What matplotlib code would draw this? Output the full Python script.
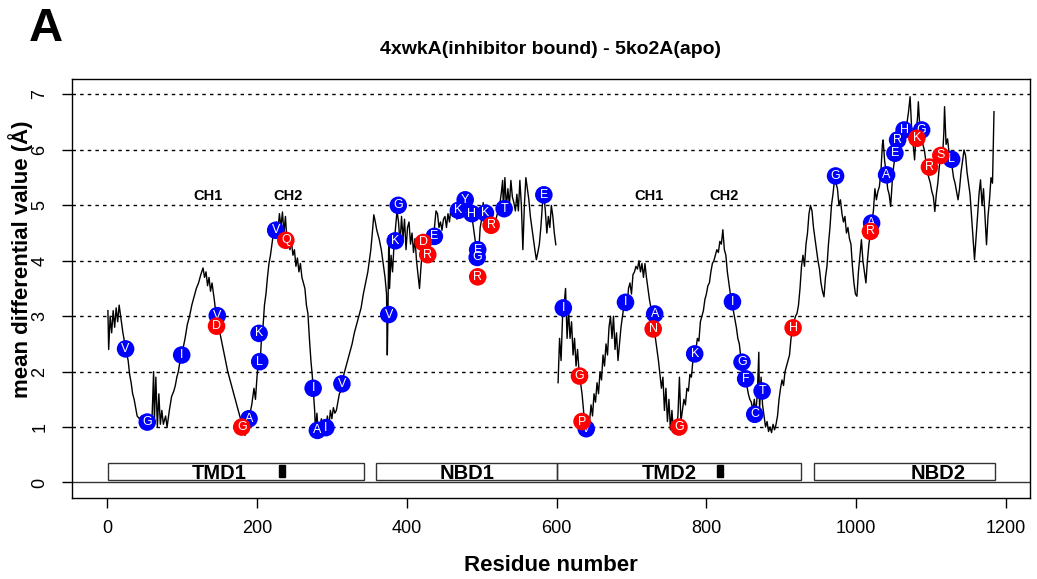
import numpy as np
import matplotlib
matplotlib.use('Agg')
import matplotlib.pyplot as plt
from matplotlib.patches import Rectangle

plt.rcParams['font.family'] = ['Liberation Sans', 'DejaVu Sans']

# mean differential value per residue, NaN = gap in numbering
res = [1, 2, 4, 6, 8, 10, 12, 14, 16, 18, 21, 25, 28, 30, 32, 34, 36, 38, 40, 43,
       46, 50, 54, 57, 60, 62, 63, 65, 67, 69, 71, 73, 75, 78, 80, 83, 86, 89, 91, 93,
       95, 98, 101, 104, 107, 110, 113, 116, 119, 122, 125, 128, 130, 132, 134, 136, 138, 140, 143, 146,
       149, 152, 155, 158, 161, 164, 167, 170, 173, 176, 179, 182, 184, 187, 190, 193, 196, 198, 200, 202,
       204, 206, 208, 210, 212, 214, 216, 218, 220, 222, 224, 226, 228, 230, 232, 234, 236, 238, 240, 242,
       244, 246, 248, 250, 252, 254, 256, 258, 260, 262, 264, 266, 268, 270, 272, 274, 276, 277, 278, 280,
       282, 284, 286, 288, 290, 292, 294, 296, 298, 300, 302, 304, 306, 308, 310, 312, 314, 316, 318, 321,
       324, 327, 330, 333, 336, 339, 342, 345, 348, 350, 352, 354, 356, 358, 360, 363, 366, 369, 371, 373,
       374, 375, 376, 377, 379, 381, 383, 385, 387, 389, 391, 393, 395, 397, 399, 401, 403, 405, 407, 409,
       411, 413, 415, 417, 419, 421, 423, 426, 429, 431, 433, 435, 437, 439, 441, 443, 445, 447, 449, 451,
       453, 455, 457, 459, 461, 463, 465, 467, 470, 473, 476, 479, 482, 485, 488, 490, 492, 494, 496, 498,
       500, 502, 504, 506, 508, 510, 512, 514, 516, 518, 520, 522, 524, 526, 528, 529, 531, 533, 535, 537,
       539, 541, 543, 545, 547, 549, 551, 553, 555, 557, 559, 561, 563, 565, 567, 569, 571, 573, 575, 577,
       579, 581, 583, 585, 587, 589, 591, 593, 595, 597, 599, 600,
       602, 604, 606, 608, 610, 612, 614, 616, 618, 620, 622, 624, 626, 628, 630, 632, 634, 636, 638, 640,
       642, 644, 646, 648, 650, 652, 654, 656, 658, 660, 662, 664, 666, 668, 670, 672, 674, 676, 678, 680,
       682, 684, 686, 688, 690, 692, 694, 696, 698, 700, 702, 704, 706, 708, 710, 712, 714, 716, 718, 720,
       722, 724, 726, 728, 730, 732, 734, 736, 738, 740, 742, 744, 746, 748, 750, 752, 754, 756, 758, 760,
       762, 764, 766, 768, 770, 772, 774, 776, 778, 780, 782, 784, 786, 788, 790, 792, 794, 796, 798, 800,
       802, 804, 806, 808, 810, 812, 814, 816, 818, 820, 822, 824, 826, 828, 830, 832, 834, 836, 838, 840,
       842, 844, 846, 848, 850, 852, 854, 856, 858, 860, 862, 864, 866, 868, 870, 871, 873, 875, 877, 879,
       881, 883, 885, 887, 889, 891, 893, 895, 897, 899, 901, 903, 905, 907, 909, 911, 913, 915, 917, 919,
       921, 923, 925, 927, 929, 931, 933, 935, 937, 939, 941, 943, 945, 947, 949, 951, 953, 955, 957, 959,
       961, 963, 965, 967, 969, 971, 973, 975, 977, 979, 981, 983, 985, 987, 989, 991, 993, 995, 997, 999,
       1001, 1003, 1005, 1007, 1009, 1011, 1013, 1015, 1017, 1019, 1021, 1023, 1025, 1027, 1029, 1031, 1033, 1035, 1036, 1038,
       1040, 1042, 1044, 1046, 1048, 1050, 1052, 1054, 1056, 1058, 1060, 1062, 1064, 1066, 1068, 1070, 1072, 1074, 1076, 1078,
       1080, 1082, 1083, 1085, 1087, 1089, 1091, 1093, 1095, 1097, 1099, 1101, 1103, 1105, 1107, 1109, 1111, 1113, 1115, 1117,
       1118, 1120, 1122, 1124, 1126, 1128, 1130, 1132, 1134, 1136, 1138, 1140, 1142, 1144, 1146, 1148, 1150, 1152, 1154, 1156,
       1158, 1160, 1162, 1164, 1166, 1168, 1170, 1172, 1174, 1176, 1178, 1180, 1182, 1184]
diff = [3.1, 2.4, 3.0, 2.7, 3.1, 2.8, 3.15, 2.9, 3.2, 3.0, 2.7, 2.4, 2.2, 1.95, 1.8, 1.6, 1.5, 1.35, 1.2, 1.15,
        1.2, 1.1, 1.0, 1.05, 1.2, 2.0, 1.1, 1.9, 1.0, 1.6, 1.05, 1.3, 1.05, 1.2, 1.0, 1.3, 1.55, 1.65, 1.75, 1.9,
        2.0, 2.25, 2.4, 2.6, 2.85, 3.0, 3.2, 3.35, 3.5, 3.6, 3.75, 3.87, 3.7, 3.8, 3.55, 3.7, 3.45, 3.6, 3.3, 2.95,
        2.8, 2.6, 2.4, 2.2, 2.0, 1.85, 1.7, 1.55, 1.4, 1.25, 1.1, 0.95, 0.85, 1.0, 1.2, 1.4, 1.7, 1.5, 1.9, 2.2,
        2.1, 2.6, 2.8, 3.2, 3.4, 3.7, 3.95, 4.1, 4.3, 4.5, 4.6, 4.7, 4.55, 4.85, 4.6, 4.88, 4.5, 4.8, 4.35, 4.5,
        4.2, 4.35, 4.1, 4.2, 3.9, 4.05, 3.8, 3.95, 3.7, 3.6, 3.5, 3.2, 3.05, 2.6, 2.2, 1.9, 1.5, 1.3, 0.95, 1.25,
        0.9, 1.0, 1.15, 0.95, 1.1, 0.95, 1.2, 1.0, 1.3, 1.15, 1.35, 1.25, 1.3, 1.45, 1.6, 1.65, 1.8, 1.95, 2.05, 2.2,
        2.35, 2.5, 2.7, 2.85, 3.0, 3.15, 3.4, 3.6, 3.8, 4.0, 4.2, 4.5, 4.83, 4.7, 4.55, 4.4, 4.2, 3.9, 3.7, 3.4,
        2.3, 3.2, 4.45, 3.5, 4.1, 3.8, 4.3, 4.6, 4.9, 4.7, 4.3, 4.8, 4.4, 4.75, 4.2, 4.6, 4.7, 4.3, 4.5, 4.15,
        4.4, 4.0, 3.75, 3.5, 3.9, 4.2, 4.4, 4.3, 4.5, 4.3, 4.5, 4.4, 4.6, 4.9, 4.85, 4.6, 4.7, 4.55, 4.75, 4.8,
        4.6, 4.85, 4.7, 4.95, 4.8, 5.0, 4.9, 4.75, 4.85, 5.0, 5.05, 4.95, 4.8, 4.9, 4.7, 4.5, 4.3, 4.0, 4.15, 4.6,
        4.75, 5.05, 4.7, 4.9, 4.75, 4.55, 4.7, 4.6, 4.75, 4.7, 4.8, 4.9, 5.0, 5.2, 5.45, 4.9, 5.5, 4.95, 5.3, 5.0,
        5.45, 5.15, 5.05, 4.9, 5.2, 4.9, 5.45, 5.0, 4.2, 5.0, 5.5, 5.3, 5.1, 4.8, 4.6, 4.4, 4.2, 4.02, 4.15, 4.3,
        4.6, 5.0, 5.2, 4.9, 4.5, 4.8, 4.6, 5.0, 4.8, 4.5, 4.29, np.nan,
        1.8, 2.6, 2.2, 3.0, 3.2, 3.5, 2.6, 3.1, 2.6, 2.9, 2.3, 2.6, 2.1, 2.4, 2.0, 1.8, 1.6, 1.3, 0.95, 1.0,
        1.15, 1.1, 1.4, 1.2, 1.6, 1.45, 1.8, 1.6, 2.0, 1.85, 2.3, 2.1, 2.5, 2.3, 2.8, 3.0, 2.6, 3.0, 2.4, 2.7,
        2.2, 2.5, 2.8, 3.0, 3.2, 3.3, 3.1, 3.5, 3.6, 3.4, 3.75, 3.8, 3.9, 3.85, 4.0, 3.8, 3.95, 3.7, 3.95, 3.7,
        3.5, 3.3, 3.15, 2.95, 2.8, 2.6, 2.4, 2.2, 1.95, 1.7, 1.9, 1.3, 1.7, 1.1, 1.5, 0.95, 1.3, 0.9, 1.1, 1.0,
        1.2, 1.9, 1.1, 1.3, 1.5, 1.4, 1.7, 1.65, 1.95, 1.9, 2.2, 2.3, 2.4, 2.6, 2.55, 2.9, 3.0, 3.1, 3.3, 3.4,
        3.55, 3.6, 3.8, 3.95, 4.0, 4.1, 4.2, 4.15, 4.35, 4.3, 4.56, 4.2, 4.1, 3.8, 3.6, 3.4, 3.25, 3.1, 2.95, 2.8,
        2.6, 2.5, 2.25, 2.15, 1.95, 1.85, 1.75, 1.6, 1.5, 1.45, 1.3, 1.5, 1.25, 1.6, 2.35, 1.3, 1.9, 1.4, 1.2, 1.0,
        1.1, 0.92, 1.0, 0.9, 1.05, 0.95, 1.05, 1.2, 1.5, 1.7, 1.85, 1.75, 2.0, 2.1, 2.2, 2.3, 2.6, 2.8, 2.9, 3.0,
        3.05, 3.2, 3.5, 3.9, 4.1, 3.9, 4.3, 4.5, 4.85, 5.0, 4.9, 4.6, 4.4, 4.2, 4.0, 3.85, 3.6, 3.45, 3.35, 3.7,
        3.9, 4.3, 4.6, 5.0, 5.2, 5.45, 5.4, 5.3, 5.0, 5.1, 4.85, 4.7, 4.8, 4.5, 4.6, 4.4, 4.3, 3.9, 3.6, 3.4,
        3.36, 3.8, 4.1, 4.38, 4.0, 3.8, 3.6, 4.0, 4.3, 4.5, 4.7, 4.9, 5.3, 5.1, 5.25, 5.34, 5.6, 6.1, 6.18, 5.8,
        5.6, 5.3, 5.2, 4.98, 5.4, 5.7, 5.9, 6.1, 6.2, 6.3, 6.1, 6.35, 6.4, 6.3, 6.5, 6.7, 6.96, 6.4, 6.1, 5.82,
        6.3, 6.6, 6.87, 6.4, 6.3, 6.1, 6.0, 5.8, 5.6, 5.5, 5.4, 5.25, 5.16, 4.89, 5.2, 5.4, 5.7, 5.9, 5.8, 6.3,
        6.78, 6.1, 6.2, 5.95, 5.8, 5.7, 5.5, 5.4, 5.25, 5.1, 5.3, 5.6, 5.8, 6.0, 5.9, 5.6, 5.4, 5.2, 4.8, 4.4,
        4.02, 4.4, 4.8, 5.2, 5.46, 5.0, 5.3, 4.8, 4.29, 4.8, 5.1, 5.5, 5.4, 6.69]

# labelled residues (blue = first group, red = second group)
blue_x = [24.6, 53.5, 99.5, 147, 189.4, 203.7, 202.8, 225, 275, 280.7, 292, 313.4,
          375.9, 384.6, 388.6, 436.8, 469, 478, 487, 494.7, 494, 505, 530, 583,
          609, 639.6, 692, 731, 784.4, 834.8, 847.6, 852.5, 874.4, 864.6,
          972.5, 1020.6, 1040.6, 1051.7, 1055.3, 1064, 1087.4, 1127.5]
blue_y = [2.41, 1.09, 2.30, 3.01, 1.15, 2.18, 2.69, 4.55, 1.70, 0.94, 0.99, 1.78,
          3.03, 4.36, 5.00, 4.44, 4.91, 5.10, 4.85, 4.20, 4.06, 4.86, 4.94, 5.19,
          3.15, 0.97, 3.25, 3.04, 2.32, 3.26, 2.17, 1.87, 1.65, 1.23,
          5.53, 4.68, 5.55, 5.94, 6.18, 6.36, 6.36, 5.83]
blue_aa = ['V', 'G', 'I', 'V', 'A', 'L', 'K', 'V', 'I', 'A', 'I', 'V',
           'V', 'K', 'G', 'E', 'K', 'Y', 'H', 'E', 'G', 'K', 'T', 'E',
           'I', 'V', 'I', 'A', 'K', 'I', 'G', 'F', 'T', 'C',
           'G', 'A', 'A', 'E', 'R', 'H', 'G', 'L']
red_x = [146, 179.7, 238.5, 422, 428, 494.7, 512.6, 630.6, 634, 729, 763.4, 915.8,
         1019, 1081, 1097.8, 1113]
red_y = [2.82, 1.00, 4.37, 4.33, 4.11, 3.71, 4.64, 1.92, 1.10, 2.77, 1.00, 2.79,
         4.53, 6.21, 5.69, 5.90]
red_aa = ['D', 'G', 'Q', 'D', 'R', 'R', 'R', 'G', 'P', 'N', 'G', 'H',
          'R', 'K', 'R', 'S']

# domain annotation
dom_name = ['TMD1', 'NBD1', 'TMD2', 'NBD2']
dom_start = [1, 359, 600, 944]
dom_end = [343, 600, 926, 1185]
dom_label_x = [149, 481, 751, 1109]
ch_name = ['CH1', 'CH2', 'CH1', 'CH2']
ch_x = [134, 242, 724, 823]
bar_start = [229, 814]
bar_end = [238, 822]

fig = plt.figure(figsize=(10.37, 5.79), dpi=100)
ax = fig.add_axes([0.0694, 0.1399, 0.9238, 0.7237])

for g in range(1, 8):
    ax.axhline(g, color='black', ls=(0, (2.5, 3)), lw=1.0, zorder=1)
ax.axhline(0, color='#333333', lw=1.0, zorder=1)

ax.plot(res, diff, color='black', lw=1.0, zorder=2)

ax.scatter(blue_x, blue_y, s=160, color='#0000ff', edgecolors='none', zorder=3)
for x, y, a in zip(blue_x, blue_y, blue_aa):
    ax.text(x, y, a, color='white', fontsize=9, ha='center', va='center', zorder=4)
ax.scatter(red_x, red_y, s=160, color='#ff0000', edgecolors='none', zorder=5)
for x, y, a in zip(red_x, red_y, red_aa):
    ax.text(x, y, a, color='white', fontsize=9, ha='center', va='center', zorder=6)

# domain boxes
for s, e, n, lx in zip(dom_start, dom_end, dom_name, dom_label_x):
    ax.add_patch(Rectangle((s, 0.04), e - s, 0.32, fill=False, ec='#333333', lw=1.0, zorder=2))
    ax.text(lx, 0.17, n, fontsize=14.5, fontweight='bold', ha='center', va='center', zorder=3)
for s, e in zip(bar_start, bar_end):
    ax.add_patch(Rectangle((s, 0.09), e - s, 0.23, color='black', zorder=3))
for n, x in zip(ch_name, ch_x):
    ax.text(x, 5.17, n, fontsize=10.5, fontweight='bold', ha='center', va='center')

ax.set_xlim(-47, 1232)
ax.set_ylim(-0.28, 7.28)
ax.set_xticks(range(0, 1201, 200))
ax.set_yticks(range(0, 8))
ax.tick_params(direction='out', length=7, labelsize=13, width=1)
ax.tick_params(axis='x', pad=9)
ax.tick_params(axis='y', pad=10)
for lab in ax.get_yticklabels():
    lab.set_rotation(90)
    lab.set_va('center')
for sp in ax.spines.values():
    sp.set_linewidth(1.0)

ax.set_xlabel('Residue number', fontsize=16, fontweight='bold', labelpad=13)
ax.set_ylabel('mean differential value (Å)', fontsize=16, fontweight='bold')
ax.yaxis.set_label_coords(-0.041, 0.57)
ax.set_title('4xwkA(inhibitor bound) - 5ko2A(apo)', fontsize=14, fontweight='bold', pad=18)
fig.text(0.028, 0.95, 'A', fontsize=34, fontweight='bold', va='center', ha='left')

plt.savefig('out.png', dpi=100)
